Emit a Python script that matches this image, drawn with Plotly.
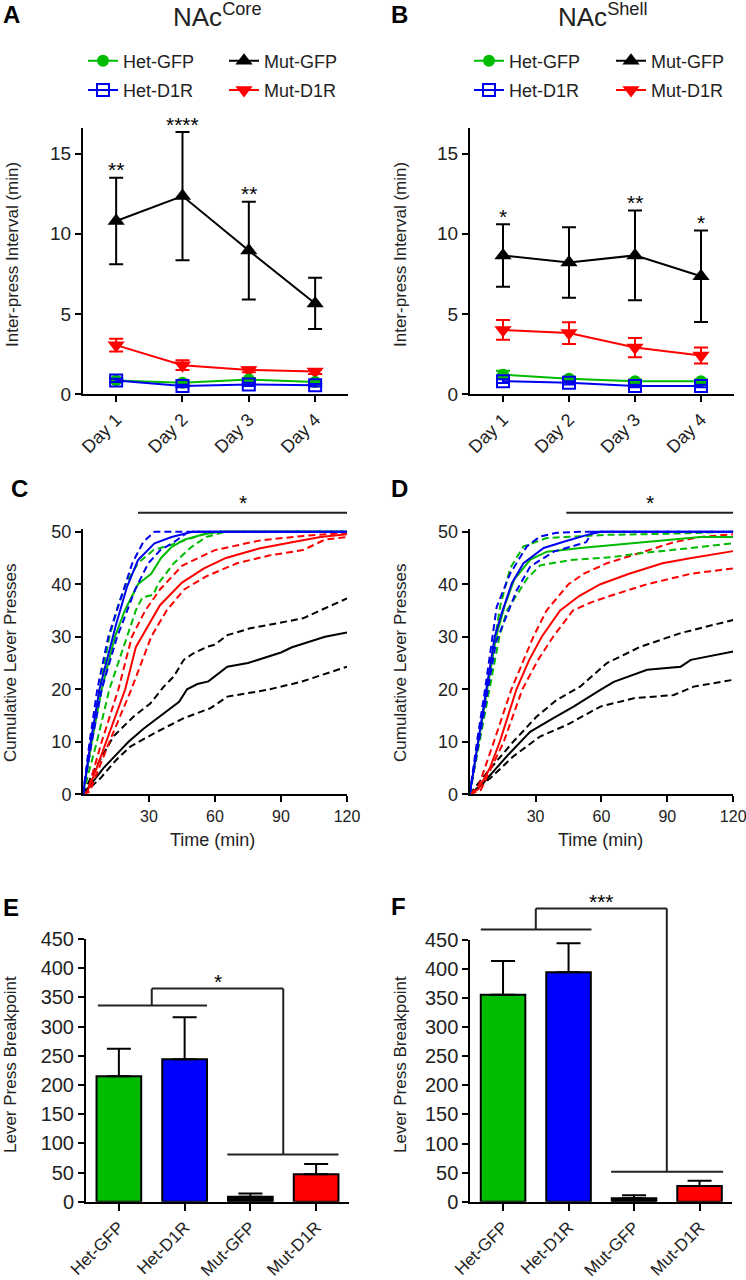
import plotly.graph_objects as go

W, H = 746, 1280
FONT = "Arial"
GREEN = "#00BB00"
BLUE = "#0000F0"
RED = "#FF0000"
BLACK = "#000000"
TXT = "#222222"

# ---------------- data ----------------
days = ["Day 1", "Day 2", "Day 3", "Day 4"]
groups = ["Het-GFP", "Het-D1R", "Mut-GFP", "Mut-D1R"]

# Panel A (NAc core) inter-press interval (min), mean and SEM
core_ipi_het_gfp = [0.85, 0.70, 0.90, 0.75]
core_sem_het_gfp = [0.10, 0.10, 0.10, 0.08]
core_ipi_het_d1r = [0.85, 0.50, 0.60, 0.55]
core_sem_het_d1r = [0.10, 0.08, 0.10, 0.08]
core_ipi_mut_gfp = [10.8, 12.35, 8.95, 5.65]
core_sem_mut_gfp = [2.7, 4.0, 3.05, 1.6]
core_ipi_mut_d1r = [3.05, 1.8, 1.5, 1.4]
core_sem_mut_d1r = [0.40, 0.30, 0.15, 0.15]
core_stars = ["**", "****", "**", ""]

# Panel B (NAc shell)
shell_ipi_het_gfp = [1.2, 0.95, 0.8, 0.8]
shell_sem_het_gfp = [0.25, 0.12, 0.10, 0.10]
shell_ipi_het_d1r = [0.8, 0.7, 0.5, 0.5]
shell_sem_het_d1r = [0.12, 0.10, 0.08, 0.08]
shell_ipi_mut_gfp = [8.65, 8.2, 8.65, 7.35]
shell_sem_mut_gfp = [1.95, 2.2, 2.8, 2.85]
shell_ipi_mut_d1r = [4.0, 3.8, 2.9, 2.4]
shell_sem_mut_d1r = [0.62, 0.68, 0.6, 0.5]
shell_stars = ["*", "", "**", "*"]

# Panel C (core) cumulative lever presses: (time min, presses) mean and +/- band
core_het_gfp_mean = [(0, 0), (4, 10), (8.5, 20), (14.5, 30), (19, 35), (25, 40), (28, 41), (31, 42), (35.5, 45), (40, 47), (46, 48.5), (55, 49.5), (62, 50), (120, 50)]
core_het_gfp_hi = [(0, 0), (3.5, 10), (7.5, 20), (12, 30), (16, 36), (20, 40.5), (25, 44), (32, 46.5), (40, 47.5), (48, 48.5), (54, 49.4), (60, 50), (120, 50)]
core_het_gfp_lo = [(0, 0), (6.3, 10), (12, 20), (20, 30), (24, 35), (27, 37.5), (32, 38), (34, 40), (41.3, 44), (49, 47), (56, 49), (65, 50), (120, 50)]
core_het_d1r_mean = [(0, 0), (3.5, 10), (7.5, 20), (13.5, 30), (14.8, 32), (20, 39.5), (25, 44.6), (32.5, 47.8), (40.3, 49), (47.9, 49.8), (50, 50), (120, 50)]
core_het_d1r_hi = [(0, 0), (3, 10), (6.5, 20), (11.5, 30), (17.4, 37.6), (22.4, 44), (27.5, 48.1), (32.5, 50), (120, 50)]
core_het_d1r_lo = [(0, 0), (4, 10), (8.5, 20), (15.5, 30), (17.4, 32), (23.7, 39), (29.7, 44), (35.2, 46.5), (41.3, 48), (48, 50), (120, 50)]
core_mut_gfp_mean = [(0, 0), (9.3, 5), (15, 7.5), (20.7, 10), (27.5, 12.5), (37, 15.4), (43.7, 17.6), (47.3, 20), (52, 21), (57, 21.5), (60, 22.5), (65.6, 24.3), (75, 25), (83, 26), (90, 27), (95, 28), (110, 30), (120, 30.8)]
core_mut_gfp_hi = [(0, 0), (5, 4.5), (13.8, 11), (23, 14.8), (30.6, 17.3), (36.7, 20.5), (41.2, 22.4), (45.8, 25.6), (50, 26.8), (56.5, 28.1), (60, 28.5), (65.6, 30.3), (76, 31.6), (90, 32.7), (100, 33.5), (106.7, 34.8), (120, 37.3)]
core_mut_gfp_lo = [(0, 0), (7.8, 3), (15, 6.5), (21.5, 9.1), (33.6, 11.9), (45.8, 14.5), (58, 16.4), (65.6, 18.6), (83.9, 19.9), (99, 21.4), (120, 24.3)]
core_mut_d1r_mean = [(0, 0), (2, 0.5), (6.2, 5), (10.5, 10), (19.2, 20), (24, 28), (30, 32.5), (35, 36), (45, 40.3), (55, 43), (65, 45), (80, 46.8), (95, 48), (108, 49), (120, 49.5)]
core_mut_d1r_hi = [(0, 0), (2, 0.5), (8.5, 10), (16.1, 20), (22.2, 30), (28.3, 35), (35, 39), (45, 43.5), (60, 46.5), (80, 48.3), (100, 49.2), (120, 49.8)]
core_mut_d1r_lo = [(0, 0), (3, 0.5), (12, 10), (22, 20), (31, 30), (38, 35), (46, 39), (56, 41.5), (70, 44), (85, 45.5), (100, 46.5), (105, 47.5), (110, 48.5), (120, 49)]
core_sig_span = [25, 120]

# Panel D (shell)
shell_het_gfp_mean = [(0, 0), (4, 10), (8, 20), (12, 30), (16, 36), (20.3, 40.9), (27.6, 44.7), (35.2, 46.2), (50.5, 46.9), (65.7, 47.5), (93, 48.6), (105, 49), (120, 49)]
shell_het_gfp_hi = [(0, 0), (3.8, 10), (7.8, 20), (11.5, 30), (14, 36), (18.4, 43), (24.5, 47.2), (35, 48.8), (62.5, 49.4), (90, 49.6), (120, 50)]
shell_het_gfp_lo = [(0, 0), (4.5, 10), (9, 20), (13.5, 30), (17, 35), (20.9, 37.6), (26, 41), (32.1, 43.6), (45.9, 44.6), (65.7, 45.2), (77.8, 45.9), (100.8, 46.9), (120, 47.8)]
shell_het_d1r_mean = [(0, 0), (2, 5), (3.8, 10), (7.6, 20), (11.4, 30), (14.6, 34.5), (19.2, 40.2), (24.5, 44), (33.7, 46.9), (42.8, 48.1), (53.5, 49.4), (60, 50), (120, 50)]
shell_het_d1r_hi = [(0, 0), (3.3, 10), (7, 20), (10.5, 30), (12.3, 35.7), (18.4, 42), (26, 47.2), (32.1, 49.1), (39.7, 49.8), (50, 50), (120, 50)]
shell_het_d1r_lo = [(0, 0), (4.3, 10), (8.3, 20), (12, 29), (16.9, 34), (21.5, 38.9), (27.6, 43.4), (38.3, 46.2), (49, 47.5), (53, 48), (56, 50), (120, 50)]
shell_mut_gfp_mean = [(0, 0), (6.1, 2.1), (16.8, 7.2), (27.5, 11.9), (38.1, 14.5), (47.3, 16.7), (59.5, 19.9), (65.6, 21.4), (80.8, 23.7), (96.1, 24.3), (100.7, 25.6), (120, 27.2)]
shell_mut_gfp_hi = [(0, 0), (7.6, 4), (19.8, 10), (30.5, 14.8), (39.7, 18), (50.3, 20.5), (62.5, 25), (77.8, 28.1), (96.1, 30.7), (120, 33.2)]
shell_mut_gfp_lo = [(0, 0), (9.2, 3), (19.8, 7.2), (32, 11), (44.2, 13.2), (59.5, 16.7), (74.8, 18.3), (93, 18.9), (102, 20.5), (120, 21.8)]
shell_mut_d1r_mean = [(0, 0), (4, 1), (9.2, 5), (13.7, 10), (21.3, 20), (27, 25.5), (32.8, 30), (41.2, 35), (50, 37.8), (59.5, 40), (72.6, 42), (87.8, 44), (101, 45), (120, 46.3)]
shell_mut_d1r_hi = [(0, 0), (4, 1.5), (11, 10), (19, 20), (24, 25), (29, 30), (35, 35), (45, 40), (52, 42), (62.5, 44), (77.8, 46), (93, 48), (105, 49), (120, 49.5)]
shell_mut_d1r_lo = [(0, 0), (5, 0.8), (15.5, 10), (24, 20), (31, 25.5), (38, 30), (47, 35), (55, 36.5), (65.6, 38), (80.8, 40), (100.8, 42), (120, 43)]
shell_sig_span = [44, 120]
cum_sig_level = 53.6

# Panels E/F lever press breakpoint
core_breakpoint = [215, 244, 8.5, 47]
core_breakpoint_sem = [47, 72, 5.5, 17.5]
shell_breakpoint = [356, 394.5, 6, 27]
shell_breakpoint_sem = [58, 50, 5, 9]
# bracket: left span, left level, right span, right level, top level, label
core_bracket = dict(left=[-0.32, 1.34], left_y=336, right=[1.65, 3.34], right_y=81, top=365, label="*")
shell_bracket = dict(left=[-0.34, 1.35], left_y=468, right=[1.65, 3.36], right_y=51.4, top=504, label="***")

# ---------------- layout helpers ----------------
def px(x):
    return x / W


def py(y):
    return 1 - y / H


color_of = {"Het-GFP": GREEN, "Het-D1R": BLUE, "Mut-GFP": BLACK, "Mut-D1R": RED}


def marker_of(g):
    if g == "Het-GFP":
        return dict(symbol="circle", size=12, color=GREEN)
    if g == "Het-D1R":
        return dict(symbol="square-open", size=12, color=BLUE, line=dict(color=BLUE, width=2))
    if g == "Mut-GFP":
        return dict(symbol="triangle-up", size=15, color=BLACK)
    return dict(symbol="triangle-down", size=15, color=RED)


fig = go.Figure()

# ---------------- A / B ----------------
ipi_sets = [
    ("x", "y", "legend", "legend2",
     {"Mut-GFP": (core_ipi_mut_gfp, core_sem_mut_gfp), "Mut-D1R": (core_ipi_mut_d1r, core_sem_mut_d1r),
      "Het-GFP": (core_ipi_het_gfp, core_sem_het_gfp), "Het-D1R": (core_ipi_het_d1r, core_sem_het_d1r)}, "A"),
    ("x2", "y2", "legend3", "legend4",
     {"Mut-GFP": (shell_ipi_mut_gfp, shell_sem_mut_gfp), "Mut-D1R": (shell_ipi_mut_d1r, shell_sem_mut_d1r),
      "Het-GFP": (shell_ipi_het_gfp, shell_sem_het_gfp), "Het-D1R": (shell_ipi_het_d1r, shell_sem_het_d1r)}, "B"),
]
for xa, ya, legL, legR, data, tag in ipi_sets:
    for g in ["Mut-GFP", "Mut-D1R", "Het-GFP", "Het-D1R"]:
        m, s = data[g]
        fig.add_trace(go.Scatter(
            x=days, y=m, mode="lines+markers", name=g,
            line=dict(color=color_of[g], width=2), marker=marker_of(g),
            error_y=dict(type="data", array=s, color=color_of[g], thickness=2, width=7),
            xaxis=xa, yaxis=ya, legend=(legL if g.startswith("Het") else legR),
            legendgroup=tag + g, showlegend=True, cliponaxis=False,
        ))

# ---------------- C / D ----------------
cum_sets = [
    ("x3", "y3", [(core_mut_gfp_mean, core_mut_gfp_lo, core_mut_gfp_hi, BLACK),
                  (core_mut_d1r_mean, core_mut_d1r_lo, core_mut_d1r_hi, RED),
                  (core_het_gfp_mean, core_het_gfp_lo, core_het_gfp_hi, GREEN),
                  (core_het_d1r_mean, core_het_d1r_lo, core_het_d1r_hi, BLUE)]),
    ("x4", "y4", [(shell_mut_gfp_mean, shell_mut_gfp_lo, shell_mut_gfp_hi, BLACK),
                  (shell_mut_d1r_mean, shell_mut_d1r_lo, shell_mut_d1r_hi, RED),
                  (shell_het_gfp_mean, shell_het_gfp_lo, shell_het_gfp_hi, GREEN),
                  (shell_het_d1r_mean, shell_het_d1r_lo, shell_het_d1r_hi, BLUE)]),
]
for xa, ya, curves in cum_sets:
    for mean, lo, hi, col in curves:
        for curve, dash in [(lo, "7px,4px"), (hi, "7px,4px"), (mean, "solid")]:
            fig.add_trace(go.Scatter(
                x=[p[0] for p in curve], y=[p[1] for p in curve], mode="lines",
                line=dict(color=col, width=2, dash=dash), showlegend=False,
                xaxis=xa, yaxis=ya, hoverinfo="skip",
            ))

# ---------------- E / F ----------------
bar_colors = [GREEN, "#0000FF", BLACK, RED]
for xa, ya, vals, sems in [("x5", "y5", core_breakpoint, core_breakpoint_sem),
                           ("x6", "y6", shell_breakpoint, shell_breakpoint_sem)]:
    fig.add_trace(go.Bar(
        x=groups, y=vals, width=0.68,
        marker=dict(color=bar_colors, line=dict(color=BLACK, width=2)),
        error_y=dict(type="data", symmetric=False, array=sems, arrayminus=[0] * len(sems),
                     color=BLACK, thickness=2, width=12),
        showlegend=False, xaxis=xa, yaxis=ya,
    ))

# ---------------- axes ----------------
axis_base = dict(showline=True, linecolor=BLACK, linewidth=2, ticks="outside", ticklen=6,
                 tickwidth=2, tickcolor=BLACK, showgrid=False, zeroline=False, fixedrange=True,
                 automargin=False, ticklabeloverflow="allow")


def xdom(a, b):
    return [px(a), px(b)]


def ydom(bottom, top):
    return [py(bottom), py(top)]


cum_top = 50.5
cum_scale = (794.3 - 531.7) / 50.0
cum_top_px = 794.3 - cum_top * cum_scale

layout_axes = dict(
    xaxis=dict(axis_base, domain=xdom(83, 348.3), range=[-0.5, 3.5], anchor="y", tickangle=-45,
               tickfont=dict(family=FONT, size=18, color=TXT)),
    yaxis=dict(axis_base, domain=ydom(394, 128), range=[0, 16.6], anchor="x", tickvals=[0, 5, 10, 15],
               tickfont=dict(family=FONT, size=19, color=TXT)),
    xaxis2=dict(axis_base, domain=xdom(470, 734), range=[-0.5, 3.5], anchor="y2", tickangle=-45,
                tickfont=dict(family=FONT, size=18, color=TXT)),
    yaxis2=dict(axis_base, domain=ydom(394, 128), range=[0, 16.6], anchor="x2", tickvals=[0, 5, 10, 15],
                tickfont=dict(family=FONT, size=19, color=TXT)),
    xaxis3=dict(axis_base, domain=xdom(83, 347), range=[0, 120], anchor="y3", tickvals=[30, 60, 90, 120],
                tickfont=dict(family=FONT, size=16, color=TXT)),
    yaxis3=dict(axis_base, domain=ydom(794.3, cum_top_px), range=[0, cum_top], anchor="x3",
                tickvals=[0, 10, 20, 30, 40, 50], tickfont=dict(family=FONT, size=18, color=TXT)),
    xaxis4=dict(axis_base, domain=xdom(469.7, 733.2), range=[0, 120], anchor="y4", tickvals=[30, 60, 90, 120],
                tickfont=dict(family=FONT, size=16, color=TXT)),
    yaxis4=dict(axis_base, domain=ydom(794.3, cum_top_px), range=[0, cum_top], anchor="x4",
                tickvals=[0, 10, 20, 30, 40, 50], tickfont=dict(family=FONT, size=18, color=TXT)),
    xaxis5=dict(axis_base, domain=xdom(86, 349), range=[-0.5, 3.5], anchor="y5", tickangle=-45,
                ticklen=7, tickfont=dict(family=FONT, size=17, color=TXT)),
    yaxis5=dict(axis_base, domain=ydom(1201.7, 939), range=[0, 450], anchor="x5",
                tickvals=list(range(0, 451, 50)), tickfont=dict(family=FONT, size=20, color=TXT)),
    xaxis6=dict(axis_base, domain=xdom(470.3, 732.3), range=[-0.5, 3.5], anchor="y6", tickangle=-45,
                ticklen=7, tickfont=dict(family=FONT, size=17, color=TXT)),
    yaxis6=dict(axis_base, domain=ydom(1201.7, 940), range=[0, 450], anchor="x6",
                tickvals=list(range(0, 451, 50)), tickfont=dict(family=FONT, size=20, color=TXT)),
)

# ---------------- shapes & annotations ----------------
shapes = []
annotations = []


def ann(text, x, y, size, bold=False, angle=0, color=TXT, **kw):
    t = "<b>%s</b>" % text if bold else text
    d = dict(text=t, x=px(x), y=py(y), xref="paper", yref="paper", showarrow=False,
             font=dict(family=FONT, size=size, color=color), textangle=angle,
             xanchor="center", yanchor="middle")
    d.update(kw)
    annotations.append(d)


def hline(xref, yref, x0, x1, y):
    shapes.append(dict(type="line", xref=xref, yref=yref, x0=x0, x1=x1, y0=y, y1=y,
                       line=dict(color=TXT, width=2)))


def vline(xref, yref, x, y0, y1):
    shapes.append(dict(type="line", xref=xref, yref=yref, x0=x, x1=x, y0=y0, y1=y1,
                       line=dict(color=TXT, width=2)))


# panel letters
for letter, x, y in [("A", 11, 14), ("B", 399, 14), ("C", 19, 488), ("D", 399, 488), ("E", 11, 907), ("F", 398, 906)]:
    ann(letter, x, y, 24, bold=True, color=BLACK)

# titles
ann("NAc<sup>Core</sup>", 218, 15, 26)
ann("NAc<sup>Shell</sup>", 603, 15, 26)

# axis titles
ann("Inter-press Interval (min)", 12, 255, 17, angle=-90)
ann("Inter-press Interval (min)", 400, 255, 17, angle=-90)
ann("Cumulative Lever Presses", 10, 663, 17, angle=-90)
ann("Cumulative Lever Presses", 400, 663, 17, angle=-90)
ann("Time (min)", 212, 840, 18)
ann("Time (min)", 600, 840, 18)
ann("Lever Press Breakpoint", 10, 1065, 17, angle=-90)
ann("Lever Press Breakpoint", 400, 1065, 17, angle=-90)

STAR = 21
# significance stars over Mut-GFP in A and B
for xa, ya, means, sems, stars in [("x", "y", core_ipi_mut_gfp, core_sem_mut_gfp, core_stars),
                                    ("x2", "y2", shell_ipi_mut_gfp, shell_sem_mut_gfp, shell_stars)]:
    for d, m, s, st in zip(days, means, sems, stars):
        if st:
            annotations.append(dict(text=st, x=d, y=m + s, xref=xa, yref=ya, showarrow=False,
                                    font=dict(family=FONT, size=STAR, color=BLACK),
                                    xanchor="center", yanchor="middle", yshift=8))

# significance bars in C and D
for xa, ya, span in [("x3", "y3", core_sig_span), ("x4", "y4", shell_sig_span)]:
    ylev = cum_sig_level / cum_top
    hline(xa, ya + " domain", span[0], span[1], ylev)
    annotations.append(dict(text="*", x=(span[0] + span[1]) / 2, y=ylev, xref=xa, yref=ya + " domain",
                            showarrow=False, font=dict(family=FONT, size=STAR, color=BLACK),
                            xanchor="center", yanchor="middle", yshift=10))

# brackets in E and F
for xa, ya, br in [("x5", "y5", core_bracket), ("x6", "y6", shell_bracket)]:
    yr = ya + " domain"
    ymax = 450.0
    hline(xa, yr, br["left"][0], br["left"][1], br["left_y"] / ymax)
    hline(xa, yr, br["right"][0], br["right"][1], br["right_y"] / ymax)
    mid_l = 0.5
    mid_r = 2.5
    vline(xa, yr, mid_l, br["left_y"] / ymax, br["top"] / ymax)
    hline(xa, yr, mid_l, mid_r, br["top"] / ymax)
    vline(xa, yr, mid_r, br["top"] / ymax, br["right_y"] / ymax)
    annotations.append(dict(text=br["label"], x=(mid_l + mid_r) / 2, y=br["top"] / ymax, xref=xa, yref=yr,
                            showarrow=False, font=dict(family=FONT, size=STAR, color=BLACK),
                            xanchor="center", yanchor="middle", yshift=7))

# legends
leg_base = dict(bgcolor="rgba(0,0,0,0)", font=dict(family=FONT, size=18, color=TXT), tracegroupgap=3,
                traceorder="grouped", xanchor="left", yanchor="middle", orientation="v",
                itemclick=False, itemdoubleclick=False, borderwidth=0)

fig.update_layout(
    width=W, height=H, margin=dict(l=0, r=0, t=0, b=0, autoexpand=False),
    paper_bgcolor="white", plot_bgcolor="white",
    font=dict(family=FONT, color=TXT),
    legend=dict(leg_base, x=px(83), y=py(75.5)),
    legend2=dict(leg_base, x=px(224), y=py(75.5)),
    legend3=dict(leg_base, x=px(469), y=py(75.5)),
    legend4=dict(leg_base, x=px(611), y=py(75.5)),
    shapes=shapes, annotations=annotations,
    bargap=0.32,
    **layout_axes,
)

fig.write_html("out.html", config={"displayModeBar": False},
               post_script="document.body.style.margin='0px';")
